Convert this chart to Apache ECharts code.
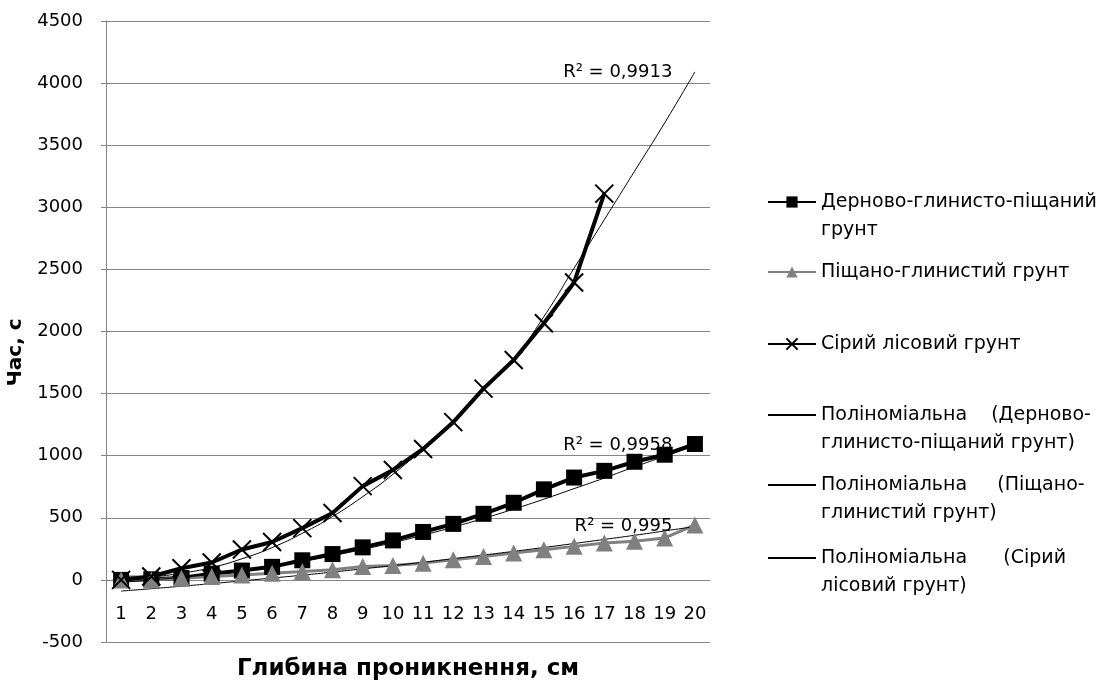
<!DOCTYPE html>
<html>
<head>
<meta charset="utf-8">
<script src="https://cdn.jsdelivr.net/npm/echarts@6/dist/echarts.min.js"></script>
<style>
  html, body { margin: 0; padding: 0; background: #fff; }
  #chart { width: 1107px; height: 683px; }
</style>
</head>
<body>
<div id="chart"></div>
<script>
const depth = ['1','2','3','4','5','6','7','8','9','10','11','12','13','14','15','16','17','18','19','20'];

// виміряні дані, с
const dernovo = [0, 5, 15, 50, 75, 105, 158, 208, 262, 318, 386, 451, 532, 621, 729, 824, 878, 951, 1008, 1094];
const pishchano = [0, 0, 14, 27, 40, 54, 68, 81, 108, 116, 135, 162, 189, 216, 243, 270, 297, 311, 338, 442];
const siryi = [0, 27, 94, 140, 245, 305, 417, 538, 755, 885, 1054, 1270, 1540, 1770, 2066, 2395, 3110];

// лінії тренду
const trendDernovo = [-20, 0, 20, 45, 75, 110, 150, 195, 245, 300, 360, 425, 495, 570, 650, 735, 820, 910, 995, 1080];
const trendPishchano = [-90, -71, -51, -30, -8, 15, 38, 63, 89, 115, 142, 171, 200, 230, 261, 293, 326, 359, 394, 430];
const trendSiryi = [30, 30, 55, 100, 170, 260, 375, 510, 670, 850, 1060, 1290, 1530, 1780, 2120, 2510, 2900, 3290, 3680, 4090];

const r2 = ['R² = 0,9958', 'R² = 0,995', 'R² = 0,9913'];

const FONT = 'DejaVu Sans';
const xSymbol = 'path://M0,0L10,10M10,0L0,10';

const names = [
  'Дерново-глинисто-піщаний грунт',
  'Піщано-глинистий грунт',
  'Сірий лісовий грунт',
  'Поліноміальна (Дерново-глинисто-піщаний грунт)',
  'Поліноміальна (Піщано-глинистий грунт)',
  'Поліноміальна (Сірий лісовий грунт)'
];
// порожній рядок зверху — щоб значок стояв навпроти першого рядка
const legendText = {
  [names[0]]: '\nДерново-глинисто-піщаний\nгрунт',
  [names[1]]: 'Піщано-глинистий грунт',
  [names[2]]: 'Сірий лісовий грунт',
  [names[3]]: '\nПоліноміальна    (Дерново-\nглинисто-піщаний грунт)',
  [names[4]]: '\nПоліноміальна     (Піщано-\nглинистий грунт)',
  [names[5]]: '\nПоліноміальна      (Сірий\nлісовий грунт)'
};
const legendTop = [160, 258, 330, 373, 443, 516];

// підпис R² лише на останній точці лінії тренду
const withR2 = (arr, text) => arr.map((v, i) => i === arr.length - 1
  ? { value: v, label: { show: true, position: 'left', distance: 22, formatter: text,
        color: '#000', opacity: 1, fontFamily: FONT, fontSize: 18 } }
  : v);

const legends = names.map((n, i) => ({
  orient: 'vertical',
  left: 767,
  top: legendTop[i],
  padding: 0,
  itemWidth: 48,
  itemHeight: 14,
  selectedMode: false,
  formatter: name => legendText[name],
  textStyle: { fontFamily: FONT, fontSize: 19, color: '#000', lineHeight: 28 },
  data: [i < 3 ? n : { name: n, itemStyle: { opacity: 0 } }]
}));

const trendSeries = (name, data) => ({
  name: name, type: 'line', data: data,
  symbol: 'circle', symbolSize: 1, showSymbol: true, showAllSymbol: true, smooth: true,
  lineStyle: { color: '#000', width: 1 },
  itemStyle: { color: 'rgba(0,0,0,0)', borderWidth: 0 },
  label: { show: false }
});

const chart = echarts.init(document.getElementById('chart'));
chart.setOption({
  animation: false,
  backgroundColor: '#fff',
  grid: { left: 106, right: 397, top: 21, bottom: 41, containLabel: false, outerBoundsMode: 'none' },
  legend: legends,
  xAxis: {
    type: 'category',
    data: depth,
    boundaryGap: true,
    offset: -62,
    name: 'Глибина проникнення, см',
    nameLocation: 'middle',
    nameGap: 78,
    nameTextStyle: { fontFamily: FONT, fontSize: 23, fontWeight: 'bold', color: '#000' },
    axisLine: { onZero: false, lineStyle: { color: '#868686', width: 1 } },
    axisTick: { show: false },
    axisLabel: { margin: 25, fontFamily: FONT, fontSize: 18, color: '#000' },
    splitLine: { show: false }
  },
  yAxis: {
    type: 'value',
    min: -500,
    max: 4500,
    interval: 500,
    // пробіли в кінці зсувають підпис трохи нижче центру, як в оригіналі
    name: 'Час, с      ',
    nameLocation: 'middle',
    nameGap: 49,
    nameRotate: 90,
    nameTextStyle: { fontFamily: FONT, fontSize: 20, fontWeight: 'bold', color: '#000' },
    axisLine: { show: true, lineStyle: { color: '#868686', width: 1 } },
    axisTick: { show: true, inside: false, length: 5, lineStyle: { color: '#868686' } },
    axisLabel: { margin: 23, fontFamily: FONT, fontSize: 18, color: '#000', formatter: v => String(v) },
    splitLine: { show: true, lineStyle: { color: '#868686', width: 1 } }
  },
  series: [
    {
      name: names[0], type: 'line', data: dernovo,
      symbol: 'rect', symbolSize: 16,
      lineStyle: { color: '#000', width: 4 },
      itemStyle: { color: '#000', borderWidth: 0 }
    },
    {
      name: names[1], type: 'line', data: pishchano,
      symbol: 'triangle', symbolSize: 17,
      lineStyle: { color: '#808080', width: 3 },
      itemStyle: { color: '#808080', borderWidth: 0 }
    },
    {
      name: names[2], type: 'line', data: siryi,
      symbol: xSymbol, symbolSize: 18,
      lineStyle: { color: '#000', width: 4 },
      itemStyle: { color: '#000', borderColor: '#000', borderWidth: 2 }
    },
    trendSeries(names[3], withR2(trendDernovo, r2[0])),
    trendSeries(names[4], withR2(trendPishchano, r2[1])),
    trendSeries(names[5], withR2(trendSiryi, r2[2]))
  ]
});
</script>
</body>
</html>
